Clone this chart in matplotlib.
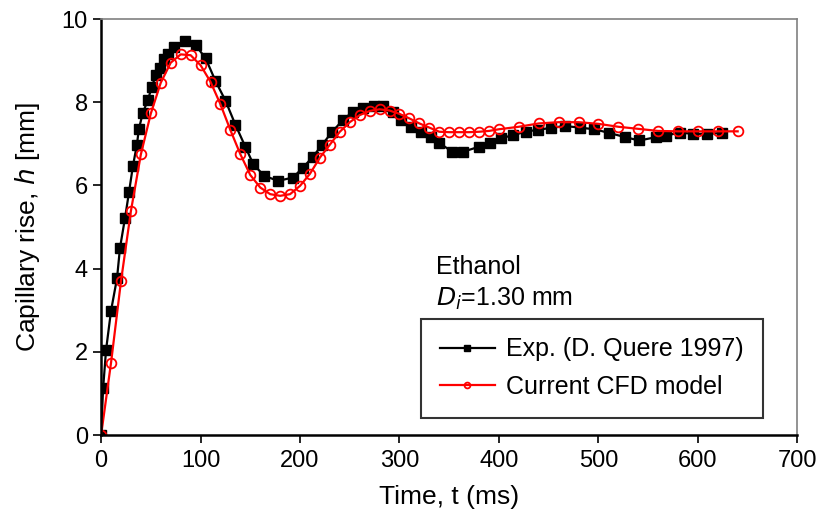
import numpy as np
import matplotlib.pyplot as plt

plt.rcParams['font.family'] = ['Liberation Sans', 'DejaVu Sans']

# experimental data (D. Quere 1997)
exp_t = [0, 2, 5, 10, 16, 19, 24, 28, 32, 36, 38, 42, 47, 51, 55, 59, 63, 67, 73, 84,
         95, 105, 115, 125, 135, 145, 153, 164, 178, 193, 203, 213, 222, 232, 243, 253,
         263, 274, 283, 293, 302, 312, 322, 332, 340, 353, 364, 380, 391, 402, 414, 427,
         439, 452, 466, 481, 496, 511, 527, 541, 558, 568, 582, 595, 609, 624]
exp_h = [0, 1.12, 2.05, 2.99, 3.77, 4.50, 5.21, 5.83, 6.47, 6.98, 7.36, 7.75, 8.05, 8.37,
         8.65, 8.83, 9.03, 9.17, 9.33, 9.48, 9.37, 9.06, 8.51, 8.04, 7.46, 6.93, 6.51,
         6.23, 6.11, 6.19, 6.43, 6.69, 6.97, 7.28, 7.57, 7.77, 7.86, 7.92, 7.91, 7.77,
         7.57, 7.41, 7.29, 7.17, 7.02, 6.81, 6.81, 6.93, 7.02, 7.13, 7.21, 7.29, 7.34,
         7.38, 7.43, 7.39, 7.35, 7.26, 7.16, 7.08, 7.16, 7.20, 7.27, 7.24, 7.24, 7.26]

# CFD model
cfd_t = list(range(0, 401, 10)) + list(range(420, 641, 20))
cfd_h = [0, 1.74, 3.70, 5.39, 6.75, 7.73, 8.47, 8.95, 9.15, 9.13, 8.89, 8.49, 7.95,
         7.33, 6.75, 6.25, 5.95, 5.79, 5.75, 5.79, 5.99, 6.28, 6.67, 6.98, 7.29, 7.52,
         7.69, 7.79, 7.83, 7.80, 7.72, 7.61, 7.49, 7.39, 7.29, 7.28, 7.28, 7.28, 7.29,
         7.31, 7.35, 7.41, 7.49, 7.52, 7.52, 7.48, 7.41, 7.36, 7.31, 7.30, 7.30, 7.30,
         7.30]

fig = plt.figure(figsize=(8.22, 5.21), dpi=100)
ax = fig.add_axes([0.123, 0.165, 0.847, 0.7985])

ax.plot(exp_t, exp_h, color='black', lw=1.6, marker='s', ms=7,
        label='Exp. (D. Quere 1997)')
ax.plot(cfd_t, cfd_h, color='red', lw=1.6, marker='o', ms=7, mfc='none',
        mew=1.3, label='Current CFD model')

ax.set_xlim(0, 700)
ax.set_ylim(0, 10)
ax.set_xticks(np.arange(0, 701, 100))
ax.set_yticks(np.arange(0, 11, 2))
ax.tick_params(labelsize=17, direction='out', length=6, width=1.2, colors='black')
ax.tick_params(axis='x', pad=5)

for s in ['left', 'bottom']:
    ax.spines[s].set_linewidth(1.8)
    ax.spines[s].set_color('black')
for s in ['top', 'right']:
    ax.spines[s].set_linewidth(1.2)
    ax.spines[s].set_color('#808080')

ax.set_xlabel('Time, t (ms)', fontsize=19, labelpad=9)
ax.set_ylabel('Capillary rise, $\\it{h}$ [mm]', fontsize=19, labelpad=14)

ax.text(337, 4.05, 'Ethanol', fontsize=18, va='center', ha='left')
ax.text(337, 3.27, '$D_i$=1.30 mm', fontsize=18, va='center', ha='left')

leg = ax.legend(loc='lower right', bbox_to_anchor=(0.950, 0.041), borderaxespad=0,
                fontsize=18, frameon=True, fancybox=False, edgecolor='black',
                borderpad=0.75, handlelength=2.2, handletextpad=0.45,
                labelspacing=0.55, markerscale=0.6)
leg.get_frame().set_linewidth(1.5)

fig.savefig('out.png', dpi=100)
